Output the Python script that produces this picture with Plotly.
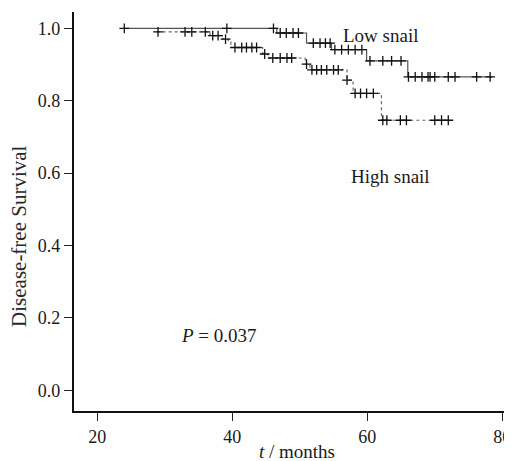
import numpy as np
import plotly.graph_objects as go

# Kaplan-Meier step data
low_t = [24.0, 46.6, 51.0, 54.7, 59.9, 66.0, 78.5]
low_s = [1.0, 0.987, 0.959, 0.941, 0.910, 0.866, 0.866]
low_cens = [24.0, 39.2, 46.1, 47.1, 48.0, 49.0, 49.8, 52.0, 53.0, 53.8, 54.5,
            55.2, 56.2, 57.2, 58.2, 59.2, 60.4, 62.3, 63.6, 65.0,
            66.1, 67.1, 68.1, 69.0, 69.3, 70.0, 72.0, 73.0, 76.2, 78.2]

high_t = [28.8, 36.7, 38.6, 39.4, 39.8, 44.5, 45.3, 50.8, 51.5, 57.0, 57.9, 62.1, 72.3]
high_s = [0.990, 0.980, 0.970, 0.962, 0.947, 0.929, 0.918, 0.901, 0.885, 0.857, 0.820, 0.746, 0.746]
high_cens = [29.0, 33.0, 34.0, 36.0, 37.1, 37.9, 39.0, 40.4, 41.4, 42.1, 42.9, 43.6,
             44.8, 46.0, 47.1, 48.1, 48.8, 51.0, 51.8, 52.5, 53.2, 54.0, 55.0, 55.7,
             57.0, 58.2, 59.0, 59.9, 60.9, 62.3, 62.9, 64.9, 65.8, 70.0, 71.0, 72.0]

x_ticks = [20, 40, 60, 80]
y_ticks = [0.0, 0.2, 0.4, 0.6, 0.8, 1.0]


def step_value(times, surv, t):
    idx = np.searchsorted(np.array(times), t, side="right") - 1
    idx = max(idx, 0)
    return surv[idx]


low_cy = [step_value(low_t, low_s, t) for t in low_cens]
high_cy = [step_value(high_t, high_s, t) for t in high_cens]

FONT = "Liberation Serif"
TXT = "#1a1a1a"

fig = go.Figure()
fig.add_trace(go.Scatter(x=low_t, y=low_s, mode="lines", line_shape="hv",
                         line=dict(color="#555555", width=1.2), showlegend=False))
fig.add_trace(go.Scatter(x=high_t, y=high_s, mode="lines", line_shape="hv",
                         line=dict(color="#666666", width=1.2, dash="3px,3px"),
                         showlegend=False))
fig.add_trace(go.Scatter(x=low_cens, y=low_cy, mode="markers",
                         marker=dict(symbol="cross-thin", size=7,
                                     line=dict(color="#111111", width=1.3)),
                         showlegend=False))
fig.add_trace(go.Scatter(x=high_cens, y=high_cy, mode="markers",
                         marker=dict(symbol="cross-thin", size=7,
                                     line=dict(color="#111111", width=1.3)),
                         showlegend=False))

fig.add_annotation(x=62.0, y=0.981, text="Low snail", showarrow=False,
                   font=dict(family=FONT, size=19, color=TXT))
fig.add_annotation(x=63.4, y=0.592, text="High snail", showarrow=False,
                   font=dict(family=FONT, size=19, color=TXT))
fig.add_annotation(x=38.0, y=0.152, text="<i>P</i> = 0.037", showarrow=False,
                   font=dict(family=FONT, size=19, color=TXT))
fig.add_annotation(xref="paper", yref="paper", x=-0.124, y=0.438,
                   text="Disease-free Survival", textangle=-90, showarrow=False,
                   xanchor="center", yanchor="middle",
                   font=dict(family=FONT, size=21, color="#2a2a2a"))
fig.add_annotation(xref="paper", yref="paper", x=0.509, y=-0.101,
                   text="<i>t</i> / months", showarrow=False, yanchor="middle",
                   font=dict(family=FONT, size=19, color=TXT))

fig.update_xaxes(range=[16.55, 81.44], tickvals=x_ticks, ticks="outside", ticklen=8,
                 tickwidth=1.3, tickcolor="#222222", showline=True, linecolor="#111111",
                 linewidth=2.2, showgrid=False, zeroline=False,
                 tickfont=dict(family=FONT, size=18, color=TXT))
fig.update_yaxes(range=[-0.057, 1.045], tickvals=y_ticks, tickformat=".1f",
                 ticks="outside", ticklen=8, tickwidth=1.3, tickcolor="#222222",
                 showline=True, linecolor="#111111", linewidth=2.2, showgrid=False,
                 zeroline=False, tickfont=dict(family=FONT, size=18, color=TXT))

# the page body adds an 8px offset; size the figure so it ends at the window edge
fig.update_layout(width=504, height=453, margin=dict(l=66, r=0, t=4, b=50),
                  plot_bgcolor="white", paper_bgcolor="white")

fig.write_html("out.html")
